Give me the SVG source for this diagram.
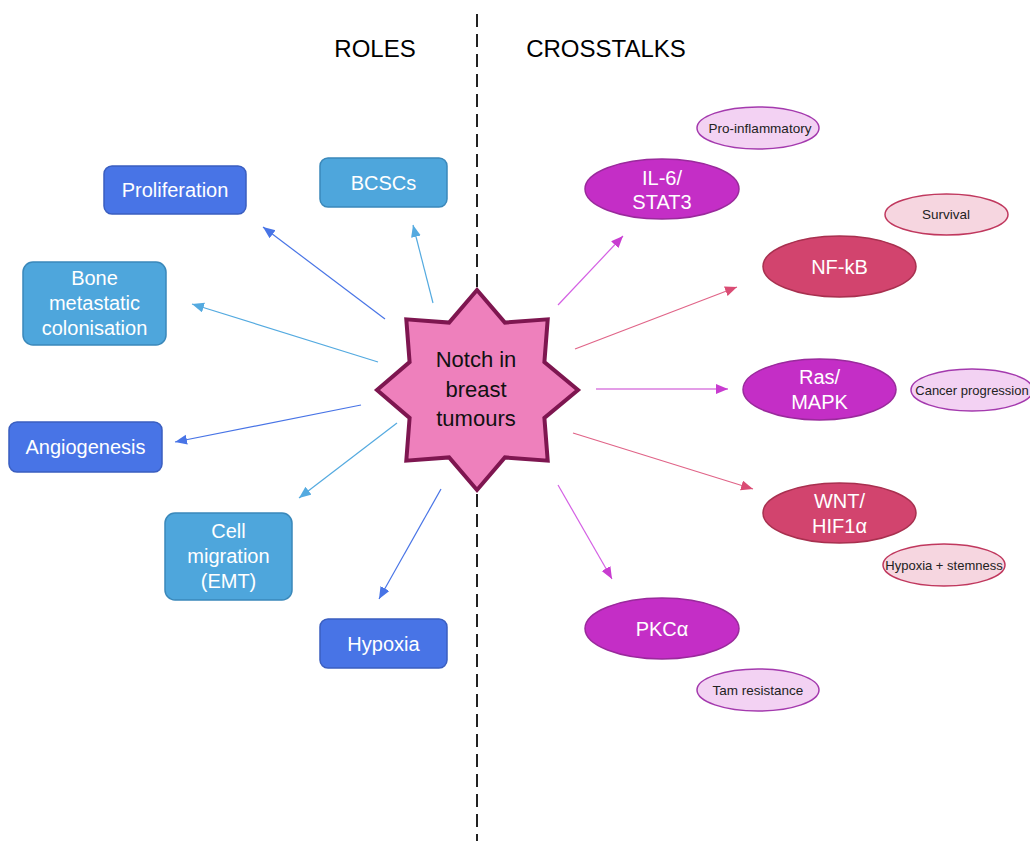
<svg xmlns="http://www.w3.org/2000/svg" width="1030" height="841" viewBox="0 0 1030 841">
<defs>
<style>
.t{font-family:"Liberation Sans",Arial,sans-serif;text-anchor:middle}
.title{font-size:24px;fill:#000}
.bt{font-size:20px;fill:#fff}
.st{font-size:13.5px;fill:#222}
.rb{fill:#4874E6;stroke:#3A5EC0;stroke-width:1.5}
.lb{fill:#4EA6DC;stroke:#3A88BA;stroke-width:1.5}
.mg{fill:#C42EC6;stroke:#9A2A9C;stroke-width:1.5}
.rd{fill:#D2446E;stroke:#A8304F;stroke-width:1.5}
.lm{fill:#F3D2F3;stroke:#A43AAE;stroke-width:1.5}
.lr{fill:#F6D6E0;stroke:#C0385E;stroke-width:1.5}
.c{fill:none;stroke-width:1.2}
</style>
<marker id="aRB" markerWidth="13" markerHeight="11" refX="12" refY="5" orient="auto" markerUnits="userSpaceOnUse"><path d="M0,0 L12,5 L0,10 Z" fill="#4874E6"/></marker>
<marker id="aLB" markerWidth="13" markerHeight="11" refX="12" refY="5" orient="auto" markerUnits="userSpaceOnUse"><path d="M0,0 L12,5 L0,10 Z" fill="#54AAE0"/></marker>
<marker id="aMG" markerWidth="13" markerHeight="11" refX="12" refY="5" orient="auto" markerUnits="userSpaceOnUse"><path d="M0,0 L12,5 L0,10 Z" fill="#C83CD0"/></marker>
<marker id="aRD" markerWidth="13" markerHeight="11" refX="12" refY="5" orient="auto" markerUnits="userSpaceOnUse"><path d="M0,0 L12,5 L0,10 Z" fill="#DA4C74"/></marker>
</defs>
<rect width="1030" height="841" fill="#fff"/>
<line id="divider" x1="477" y1="14" x2="477" y2="841" stroke="#222" stroke-width="2" stroke-dasharray="13,7"/>
<text class="t title" x="375" y="57">ROLES</text>
<text class="t title" x="606" y="57">CROSSTALKS</text>
<g id="connectors">
<line class="c" stroke="#4874E6" x1="385" y1="319" x2="263" y2="227" marker-end="url(#aRB)"/>
<line class="c" stroke="#54AAE0" x1="433" y1="303" x2="413" y2="225" marker-end="url(#aLB)"/>
<line class="c" stroke="#54AAE0" x1="378" y1="362" x2="192" y2="304" marker-end="url(#aLB)"/>
<line class="c" stroke="#4874E6" x1="361" y1="405" x2="175" y2="442" marker-end="url(#aRB)"/>
<line class="c" stroke="#54AAE0" x1="397" y1="423" x2="299" y2="498" marker-end="url(#aLB)"/>
<line class="c" stroke="#4874E6" x1="441" y1="489" x2="379" y2="599" marker-end="url(#aRB)"/>
<line class="c" stroke="#D460E4" x1="558" y1="305" x2="623" y2="236" marker-end="url(#aMG)"/>
<line class="c" stroke="#E06488" x1="575" y1="349" x2="737" y2="287" marker-end="url(#aRD)"/>
<line class="c" stroke="#C83CD0" x1="596" y1="389" x2="728" y2="389" marker-end="url(#aMG)"/>
<line class="c" stroke="#E06488" x1="573" y1="433" x2="753" y2="489" marker-end="url(#aRD)"/>
<line class="c" stroke="#D460E4" x1="558" y1="485" x2="612" y2="579" marker-end="url(#aMG)"/>
</g>
<g id="notch">
<polygon points="477,290 504.9,322.6 547.7,319.3 544.4,362.1 578,390 544.4,417.9 547.7,460.7 504.9,457.4 477,490 449.1,457.4 406.3,460.7 409.6,417.9 377,390 409.6,362.1 406.3,319.3 449.1,322.6" fill="#EE80BC" stroke="#7E1650" stroke-width="4" stroke-linejoin="miter"/>
<text class="t" font-size="22" fill="#111" x="476" y="367">Notch in</text>
<text class="t" font-size="22" fill="#111" x="476" y="397">breast</text>
<text class="t" font-size="22" fill="#111" x="476" y="426">tumours</text>
</g>
<g id="proliferation"><rect class="rb" x="104" y="166" width="142" height="48" rx="8"/><text class="t bt" x="175" y="197">Proliferation</text></g>
<g id="bcscs"><rect class="lb" x="320" y="158" width="127" height="49" rx="8"/><text class="t bt" x="383.5" y="190">BCSCs</text></g>
<g id="bone"><rect class="lb" x="23" y="262" width="143" height="83" rx="10"/><text class="t bt" x="94.5" y="285">Bone</text><text class="t bt" x="94.5" y="310">metastatic</text><text class="t bt" x="94.5" y="335">colonisation</text></g>
<g id="angiogenesis"><rect class="rb" x="9" y="422" width="153" height="50" rx="8"/><text class="t bt" x="85.5" y="454">Angiogenesis</text></g>
<g id="migration"><rect class="lb" x="165" y="513" width="127" height="87" rx="10"/><text class="t bt" x="228.5" y="538">Cell</text><text class="t bt" x="228.5" y="563">migration</text><text class="t bt" x="228.5" y="588">(EMT)</text></g>
<g id="hypoxia"><rect class="rb" x="320" y="619" width="127" height="49" rx="8"/><text class="t bt" x="383.5" y="651">Hypoxia</text></g>
<g id="proinflammatory"><ellipse class="lm" cx="758" cy="128" rx="61" ry="21"/><text class="t st" x="760" y="133">Pro-inflammatory</text></g>
<g id="il6"><ellipse class="mg" cx="662" cy="189" rx="77" ry="30"/><text class="t bt" x="662" y="185">IL-6/</text><text class="t bt" x="662" y="209">STAT3</text></g>
<g id="survival"><ellipse class="lr" cx="946.5" cy="214.5" rx="61.5" ry="20.5"/><text class="t st" x="946" y="219">Survival</text></g>
<g id="nfkb"><ellipse class="rd" cx="839.5" cy="266.5" rx="76.5" ry="30.5"/><text class="t bt" x="839.5" y="274">NF-kB</text></g>
<g id="ras"><ellipse class="mg" cx="819.5" cy="389.5" rx="76.5" ry="30.5"/><text class="t bt" x="819.5" y="384">Ras/</text><text class="t bt" x="819.5" y="409">MAPK</text></g>
<g id="cancer"><ellipse class="lm" cx="972" cy="390" rx="61" ry="21"/><text class="t st" x="972" y="395" style="font-size:13px">Cancer progression</text></g>
<g id="wnt"><ellipse class="rd" cx="839.5" cy="513" rx="76.5" ry="30"/><text class="t bt" x="839.5" y="508">WNT/</text><text class="t bt" x="839.5" y="533">HIF1α</text></g>
<g id="hypstem"><ellipse class="lr" cx="944" cy="565" rx="61" ry="21"/><text class="t st" x="944" y="570" style="font-size:13px">Hypoxia + stemness</text></g>
<g id="pkc"><ellipse class="mg" cx="662" cy="628.5" rx="77" ry="30.5"/><text class="t bt" x="662" y="636">PKCα</text></g>
<g id="tam"><ellipse class="lm" cx="758" cy="690" rx="61" ry="21"/><text class="t st" x="758" y="695">Tam resistance</text></g>
</svg>
